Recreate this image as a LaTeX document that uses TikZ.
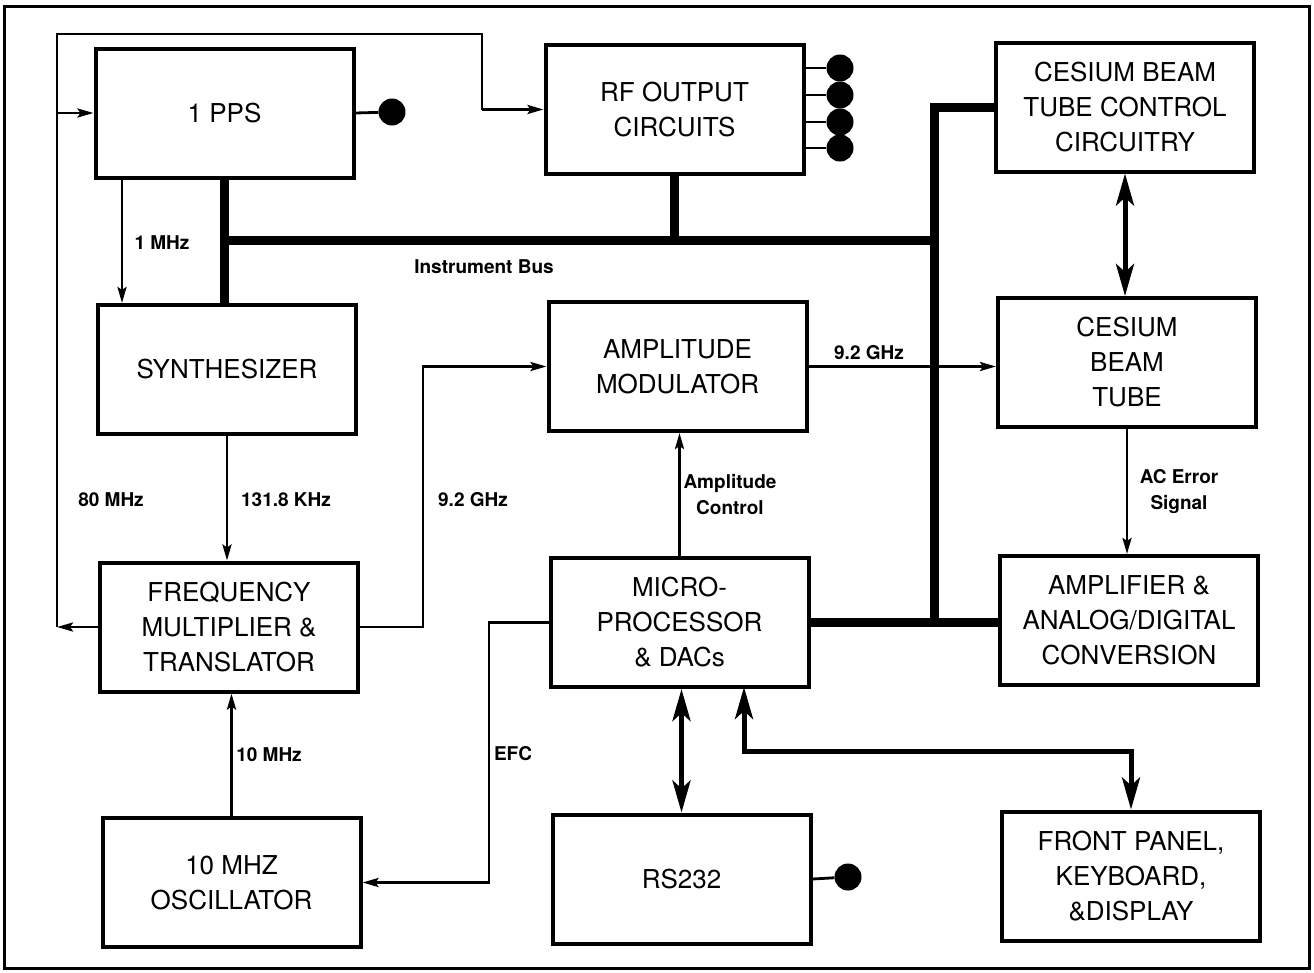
\documentclass[tikz,border=0pt]{standalone}
\usepackage{fontspec}
\setmainfont{TeX Gyre Heros}
\usetikzlibrary{arrows.meta}
\begin{document}
\begin{tikzpicture}[x=1pt,y=-1pt,
 box/.style={draw, line width=4pt, minimum width=258pt, minimum height=129pt, align=center, font=\fontsize{26}{35}\selectfont, inner sep=0pt},
 lbl/.style={font=\bfseries\fontsize{19}{26}\selectfont, align=center, inner sep=0pt},
 sig/.style={line width=2.8pt, -{Stealth[length=16pt,width=9pt,inset=3pt]}},
 wire/.style={line width=2.8pt},
 bus/.style={line width=9pt},
 dbl/.style={line width=5pt, {Stealth[length=32pt,width=18pt,inset=8pt]}-{Stealth[length=32pt,width=18pt,inset=8pt]}},
 dot/.style={circle, fill, inner sep=0pt, minimum size=27pt}
]
\useasboundingbox (0,0) rectangle (1314,972);
\draw[line width=3pt] (4,6) rectangle (1309,968);

% boxes
\node[box] (pps) at (224.5,113) {1 PPS};
\node[box] (rf) at (674.5,109.5) {RF OUTPUT\\CIRCUITS};
\node[box] (cbtc) at (1125,107) {CESIUM BEAM\\TUBE CONTROL\\CIRCUITRY};
\node[box] (synth) at (227,369.5) {SYNTHESIZER};
\node[box] (am) at (677.5,366.5) {AMPLITUDE\\MODULATOR};
\node[box] (cbt) at (1127,362.5) {CESIUM\\BEAM\\TUBE};
\node[box] (fmt) at (229,627) {FREQUENCY\\MULTIPLIER \&\\TRANSLATOR};
\node[box] (mp) at (679.5,622.5) {MICRO-\\PROCESSOR\\\& DACs};
\node[box] (adc) at (1129,620.5) {AMPLIFIER \&\\ANALOG/DIGITAL\\CONVERSION};
\node[box] (osc) at (231.5,882.5) {10 MHZ\\OSCILLATOR};
\node[box] (rs) at (681.5,879) {RS232};
\node[box] (fp) at (1131,876) {FRONT PANEL,\\KEYBOARD,\\\&DISPLAY};

% output dots
\node[dot] (ppsdot) at (392,112) {};
\node[dot] (rfd1) at (840,68) {};
\node[dot] (rfd2) at (840,95) {};
\node[dot] (rfd3) at (840,122) {};
\node[dot] (rfd4) at (840,148) {};
\node[dot] (rsdot) at (848,877) {};
\draw[wire] (pps.east) -- (ppsdot);
\draw[wire] (rfd1 -| rf.east) -- (rfd1);
\draw[wire] (rfd2 -| rf.east) -- (rfd2);
\draw[wire] (rfd3 -| rf.east) -- (rfd3);
\draw[wire] (rfd4 -| rf.east) -- (rfd4);
\draw[wire] (rs.east) -- (rsdot);

% instrument bus
\coordinate (busL) at (224.5,240);
\coordinate (busR) at (934,240);
\coordinate (busT) at (934,107);
\coordinate (busB) at (934,622);
\draw[bus] (pps.south) -- (pps.south |- synth.north);
\draw[bus] (busL) -- (busR);
\draw[bus] (rf.south) -- (rf.south |- busR);
\draw[bus] (cbtc.west) -- (busT) -- (busB);
\draw[bus] (mp.east) -- (mp.east -| adc.west);

% 80 MHz loop
\coordinate (loopB) at (57,627);
\coordinate (loopTL) at (57,34);
\coordinate (loopTR) at (482,34);
\draw[sig] (fmt.west) -- (loopB);
\draw[wire, line join=miter] (loopB) -- (loopTL) -- (loopTR) -- (loopTR |- rf.west);
\draw[sig] (loopTR |- rf.west) -- (rf.west);
\draw[sig] (loopTL |- pps.west) -- (pps.west);

% signals
\coordinate (mhz1) at (122,178);
\draw[sig] (mhz1) -- (mhz1 |- synth.north);
\draw[sig] (synth.south) -- (synth.south |- fmt.north);
\coordinate (c92) at (423,500);
\draw[sig] (fmt.east) -| (c92) |- (am.west);
\draw[sig] (am.east) -- (am.east -| cbt.west);
\draw[sig] (mp.north) -- (mp.north |- am.south);
\draw[sig] (cbt.south) -- (cbt.south |- adc.north);
\draw[sig] (osc.north) -- (osc.north |- fmt.south);
\coordinate (cefc) at (489,750);
\draw[sig] (mp.west) -| (cefc) |- (osc.east);

% thick double arrows
\draw[dbl] (cbtc.south) -- (cbtc.south |- cbt.north);
\draw[dbl] (rs.north) -- (rs.north |- mp.south);
\coordinate (mpfp) at (744,687);
\coordinate (fpbend) at (744,751);
\draw[dbl, line join=miter] (mpfp) -- (fpbend) -| (fp.north);

% labels
\node[lbl] (l1) at (162,243) {1 MHz};
\node[lbl] (l2) at (484,267) {Instrument Bus};
\node[lbl] (l3) at (111,500) {80 MHz};
\node[lbl] (l4) at (286,500) {131.8 KHz};
\node[lbl] (l5) at (473,500) {9.2 GHz};
\node[lbl] (l6) at (869,353) {9.2 GHz};
\node[lbl] (l7) at (730,495) {Amplitude\\Control};
\node[lbl] (l8) at (1179,492) {AC Error\\Signal};
\node[lbl] (l9) at (269,755) {10 MHz};
\node[lbl] (l10) at (513,754) {EFC};
\end{tikzpicture}
\end{document}
